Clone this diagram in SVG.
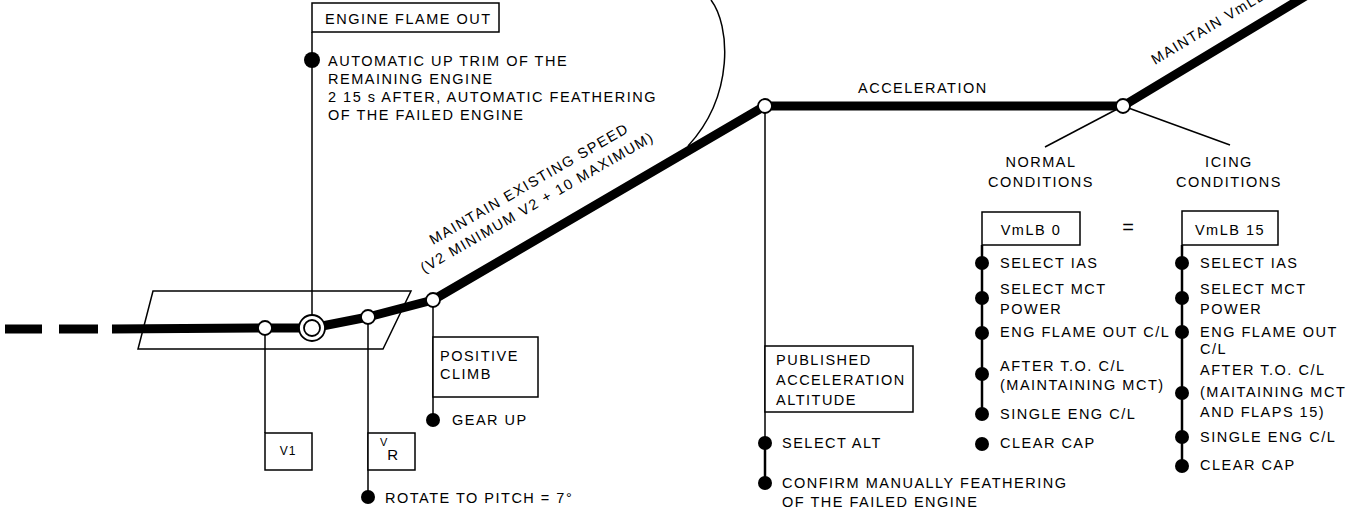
<svg xmlns="http://www.w3.org/2000/svg" width="1347" height="519" viewBox="0 0 1347 519">
<style>
.t{font-family:"Liberation Sans",Arial,sans-serif;font-size:14.5px;letter-spacing:1.5px;fill:#000}
.m{text-anchor:middle}
.thin{stroke:#000;stroke-width:1.5;fill:none}
.mid{stroke:#000;stroke-width:2.5;fill:none}
.box{fill:#fff;stroke:#000;stroke-width:1.5}
.main{stroke:#000;stroke-width:9;fill:none;stroke-linejoin:round}
.node{fill:#fff;stroke:#000;stroke-width:1.8}
.dot{fill:#000}
</style>
<rect width="1347" height="519" fill="#fff"/>
<g id="connectors">
  <polygon class="thin" points="153,291 411,291 383,349 138,349"/>
  <path class="thin" d="M711,0 C730,25 735,95 688,146"/>
  <line class="thin" x1="312" y1="32" x2="312" y2="315"/>
  <line class="thin" x1="265" y1="328" x2="265" y2="433"/>
  <line class="thin" x1="368" y1="317" x2="368" y2="497"/>
  <line class="thin" x1="433" y1="300" x2="433" y2="420"/>
  <line class="thin" x1="765" y1="106" x2="765" y2="443"/>
  <line class="mid" x1="765" y1="443" x2="765" y2="483"/>
  <line class="thin" x1="1123" y1="106" x2="1045" y2="147"/>
  <line class="thin" x1="1123" y1="106" x2="1230" y2="145"/>
  <line class="mid" x1="982" y1="245" x2="982" y2="414"/>
  <line class="mid" x1="1182" y1="245" x2="1182" y2="466"/>
  <line class="main" x1="5" y1="329" x2="42" y2="329"/>
  <line class="main" x1="59" y1="329" x2="98" y2="329"/>
  <polyline class="main" points="112,329 265,328 312,328 368,317 433,300 765,106 1123,106 1347,-29"/>
</g>
<g id="n-v1-point"><circle class="node" cx="265" cy="328" r="7"/></g>
<g id="n-flameout-point"><circle class="node" cx="312" cy="328" r="13"/><circle class="node" cx="312" cy="328" r="8"/></g>
<g id="n-vr-point"><circle class="node" cx="368" cy="317" r="7"/></g>
<g id="n-climb-point"><circle class="node" cx="433" cy="300" r="7"/></g>
<g id="n-accel-point"><circle class="node" cx="765" cy="106" r="7"/></g>
<g id="n-branch-point"><circle class="node" cx="1123" cy="106" r="7"/></g>
<g id="n-engine-flame-out">
  <rect class="box" x="312" y="3" width="187" height="29"/>
  <text class="t" x="325" y="24">ENGINE FLAME OUT</text>
  <circle class="dot" cx="312" cy="60" r="8"/>
  <text class="t" x="328" y="66">AUTOMATIC UP TRIM OF THE</text>
  <text class="t" x="328" y="84">REMAINING ENGINE</text>
  <text class="t" x="328" y="102">2 15 s AFTER, AUTOMATIC FEATHERING</text>
  <text class="t" x="328" y="120">OF THE FAILED ENGINE</text>
</g>
<g id="n-climb-label" transform="translate(433,245) rotate(-30)">
  <text class="t" x="0" y="0">MAINTAIN EXISTING SPEED</text>
  <text class="t" x="-22" y="20">(V2 MINIMUM  V2 + 10 MAXIMUM)</text>
</g>
<g id="n-v1">
  <rect class="box" x="265" y="433" width="47" height="37"/>
  <text class="t m" x="288" y="455" style="font-size:12px;letter-spacing:1px">V1</text>
</g>
<g id="n-vr">
  <rect class="box" x="368" y="433" width="47" height="37"/>
  <text class="t" x="380" y="446" style="font-size:11px;letter-spacing:0">V<tspan dy="14" style="font-size:15px">R</tspan></text>
  <circle class="dot" cx="368" cy="497" r="7"/>
  <text class="t" x="385" y="503">ROTATE TO PITCH = 7°</text>
</g>
<g id="n-positive-climb">
  <rect class="box" x="433" y="337" width="105" height="60"/>
  <text class="t" x="440" y="361">POSITIVE</text>
  <text class="t" x="440" y="379">CLIMB</text>
  <circle class="dot" cx="433" cy="420" r="7"/>
  <text class="t" x="452" y="425">GEAR UP</text>
</g>
<g id="n-acceleration">
  <text class="t" x="858" y="93">ACCELERATION</text>
</g>
<g id="n-published-altitude">
  <rect class="box" x="765" y="346" width="148" height="66"/>
  <text class="t" x="776" y="365">PUBLISHED</text>
  <text class="t" x="776" y="385">ACCELERATION</text>
  <text class="t" x="776" y="405">ALTITUDE</text>
  <circle class="dot" cx="765" cy="443" r="7"/>
  <text class="t" x="782" y="448">SELECT ALT</text>
  <circle class="dot" cx="765" cy="483" r="7"/>
  <text class="t" x="782" y="488">CONFIRM MANUALLY FEATHERING</text>
  <text class="t" x="782" y="507">OF THE FAILED ENGINE</text>
</g>
<g id="n-maintain-vm" transform="translate(1155,65) rotate(-31)">
  <text class="t" x="0" y="0">MAINTAIN VmLB</text>
</g>
<g id="n-normal">
  <text class="t m" x="1041" y="167">NORMAL</text>
  <text class="t m" x="1041" y="187">CONDITIONS</text>
  <rect class="box" x="982" y="212" width="98" height="33"/>
  <text class="t m" x="1031" y="235">VmLB 0</text>
  <circle class="dot" cx="982" cy="263" r="7"/>
  <text class="t" x="1000" y="268">SELECT IAS</text>
  <circle class="dot" cx="982" cy="298" r="7"/>
  <text class="t" x="1000" y="294">SELECT MCT</text>
  <text class="t" x="1000" y="314">POWER</text>
  <circle class="dot" cx="982" cy="333" r="7"/>
  <text class="t" x="1000" y="337">ENG FLAME OUT C/L</text>
  <circle class="dot" cx="982" cy="374" r="7"/>
  <text class="t" x="1000" y="371">AFTER T.O. C/L</text>
  <text class="t" x="1000" y="390">(MAINTAINING MCT)</text>
  <circle class="dot" cx="982" cy="414" r="7"/>
  <text class="t" x="1000" y="419">SINGLE ENG C/L</text>
  <circle class="dot" cx="982" cy="444" r="7"/>
  <text class="t" x="1000" y="448">CLEAR CAP</text>
</g>
<g id="n-equals">
  <text class="t m" x="1128" y="234" style="font-size:20px;letter-spacing:0">=</text>
</g>
<g id="n-icing">
  <text class="t m" x="1229" y="167">ICING</text>
  <text class="t m" x="1229" y="187">CONDITIONS</text>
  <rect class="box" x="1182" y="211" width="96" height="34"/>
  <text class="t m" x="1230" y="235">VmLB 15</text>
  <circle class="dot" cx="1182" cy="263" r="7"/>
  <text class="t" x="1200" y="268">SELECT IAS</text>
  <circle class="dot" cx="1182" cy="298" r="7"/>
  <text class="t" x="1200" y="294">SELECT MCT</text>
  <text class="t" x="1200" y="314">POWER</text>
  <circle class="dot" cx="1182" cy="332" r="7"/>
  <text class="t" x="1200" y="337">ENG FLAME OUT</text>
  <text class="t" x="1200" y="354">C/L</text>
  <circle class="dot" cx="1182" cy="393" r="7"/>
  <text class="t" x="1200" y="375">AFTER T.O. C/L</text>
  <text class="t" x="1200" y="397">(MAITAINING MCT</text>
  <text class="t" x="1200" y="417">AND FLAPS 15)</text>
  <circle class="dot" cx="1182" cy="437" r="7"/>
  <text class="t" x="1200" y="442">SINGLE ENG C/L</text>
  <circle class="dot" cx="1182" cy="466" r="7"/>
  <text class="t" x="1200" y="470">CLEAR CAP</text>
</g>
</svg>
